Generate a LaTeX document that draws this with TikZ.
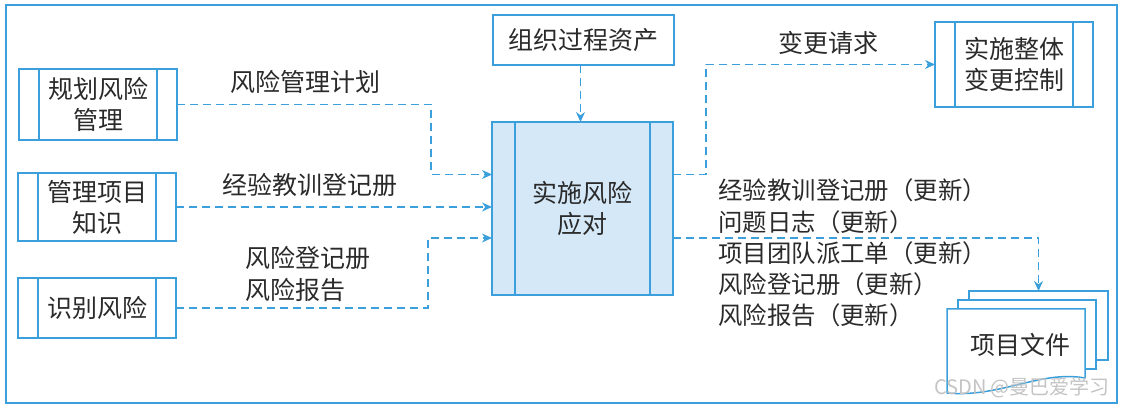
\documentclass[tikz,border=0pt]{standalone}
\usepackage{fontspec}
\setmainfont{Noto Sans CJK SC}
\usepackage{xcolor}
\definecolor{cLine}{HTML}{3A9FDA}
\definecolor{cFill}{HTML}{D5E8F7}
\definecolor{cText}{HTML}{2A2A2A}
\definecolor{cMark}{HTML}{C4C4C4}
\usepackage{tikz}
\usetikzlibrary{positioning,arrows.meta,calc,backgrounds}
\tikzset{
  node-box/.style={draw=cLine,line width=0.75pt,inner sep=0pt,outer sep=0pt,
    align=center,text=cText,font=\fontsize{12.5}{15.5}\selectfont},
  % 左右各一条竖线，表示过程
  node-proc/.style={node-box,path picture={
      \draw[cLine,line width=0.6pt]
        ([xshift=#1]path picture bounding box.north west) --
        ([xshift=#1]path picture bounding box.south west);
      \draw[cLine,line width=0.6pt]
        ([xshift=-#1]path picture bounding box.north east) --
        ([xshift=-#1]path picture bounding box.south east);}},
  node-proc/.default=10pt,
  node-page/.style={draw=cLine,line width=0.75pt,fill=white,inner sep=0pt,outer sep=0pt},
  node-label/.style={text=cText,inner sep=0pt,font=\fontsize{12.5}{16}\selectfont},
  arrow-flow/.style={-{Stealth[length=5pt,width=4.5pt]},draw=cLine,line width=0.6pt,
    dash pattern=on 4pt off 2.5pt},
  frame/.style={draw=cLine,line width=0.6pt},
}

\begin{document}
\begin{tikzpicture}[x=0.5pt,y=-0.5pt]
  \useasboundingbox (0,0) rectangle (1124,410);
  \draw[frame] (6,5) rectangle (1117,403);

  % 输入
  \node[node-proc,minimum width=79pt,minimum height=35.5pt] (plan) at (98,104.5) {规划风险\\管理};
  \node[node-proc,minimum width=79pt,minimum height=34pt] (know) at (97,207) {管理项目\\知识};
  \node[node-proc,minimum width=79pt,minimum height=30pt] (ident) at (97,308) {识别风险};
  \node[node-box,minimum width=90.5pt,minimum height=25pt] (opa) at (583.5,40) {组织过程资产};

  % 中心过程
  \node[node-proc=11.5pt,fill=cFill,minimum width=90.5pt,minimum height=86.5pt] (resp) at (582.5,208.5) {实施风险\\应对};

  % 输出
  \node[node-proc,minimum width=79pt,minimum height=42.5pt] (ichg) at (1014,64.5) {实施整体\\变更控制};
  \node[node-label] (docs) at (1020,345) {项目文件};
  \begin{scope}[on background layer]
    \node[node-page,minimum width=69.5pt,minimum height=34.5pt] (docsc) at (1038.5,325.5) {};
    \node[node-page,minimum width=69pt,minimum height=34.5pt] (docsb) at (1027,334.5) {};
    \draw[node-page] (947,309) -- (1085,309) -- (1085,378)
      .. controls (1040,370) and (1000,398) .. (947,393) -- cycle;
  \end{scope}

  % 标签
  \node[node-label] (lplan) at (305,82) {风险管理计划};
  \node[node-label] (lknow) at (310,185) {经验教训登记册};
  \node[node-label,anchor=west,align=left] (lident) at (245,274) {风险登记册\\风险报告};
  \node[node-label] (lchg) at (828,43) {变更请求};
  \node[node-label,anchor=west,align=left,font=\fontsize{12.2}{15.6}\selectfont] (lout) at (718,253)
    {经验教训登记册（更新）\\问题日志（更新）\\项目团队派工单（更新）\\风险登记册（更新）\\风险报告（更新）};

  % 连线
  \draw[arrow-flow] (plan.east) -- ++(254,0) |- ([yshift=17pt]resp.west);
  \draw[arrow-flow] (know.east) -- (resp.west |- know.east);
  \draw[arrow-flow] (ident.east) -- ++(252,0) |- ([yshift=-14.75pt]resp.west);
  \draw[arrow-flow] ([xshift=-1.5pt]opa.south) -- ([xshift=-1pt]resp.north);
  \draw[arrow-flow] ([yshift=17pt]resp.east) -- ++(33,0) |- (ichg.west);
  \draw[arrow-flow] ([yshift=-14.75pt]resp.east) -| (docsc.north);

  \node[text=cMark,font=\fontsize{10}{12}\selectfont] (mark) at (1022,388) {CSDN @曼巴爱学习};
\end{tikzpicture}
\end{document}
